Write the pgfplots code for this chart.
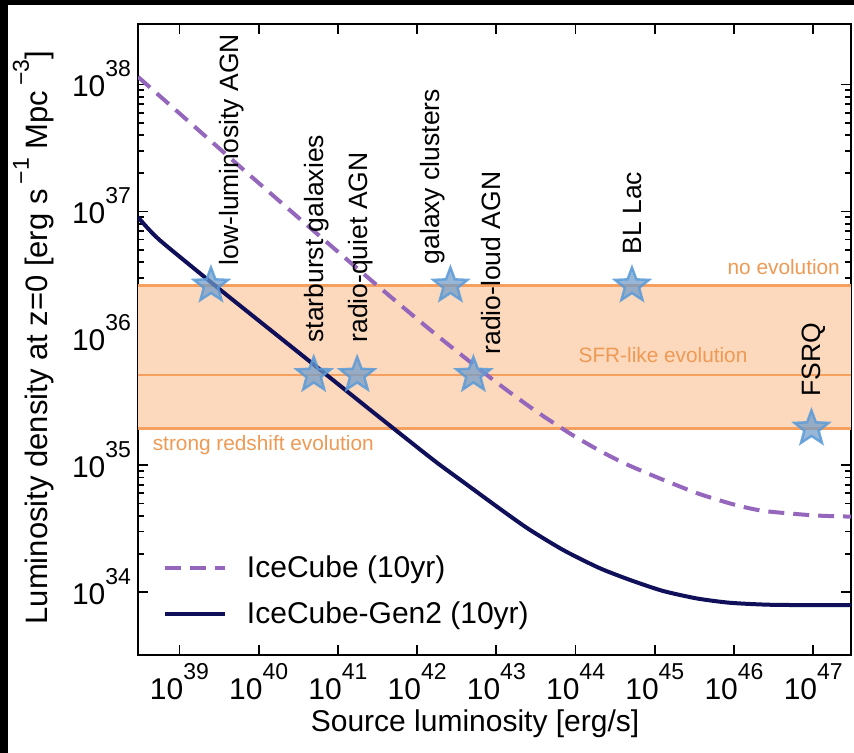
\documentclass[border=0pt]{standalone}
\usepackage{fontspec}
\setmainfont{Liberation Sans}
\usepackage{pgfplots}
\pgfplotsset{compat=1.18}
\definecolor{navy}{HTML}{10105A}
\definecolor{purp}{HTML}{9467BD}
\definecolor{bandfill}{HTML}{FCD8BC}
\definecolor{bandline}{HTML}{F5A05E}
\definecolor{bandtext}{HTML}{EE9A55}
\definecolor{starfill}{HTML}{6F9CCB}
\definecolor{staredge}{HTML}{5A9BD8}
\pgfdeclareplotmark{fstar}{%
 \pgfpathmoveto{\pgfpointpolar{90}{\pgfplotmarksize}}%
 \pgfpathlineto{\pgfpointpolar{126}{0.42\pgfplotmarksize}}%
 \pgfpathlineto{\pgfpointpolar{162}{\pgfplotmarksize}}%
 \pgfpathlineto{\pgfpointpolar{198}{0.42\pgfplotmarksize}}%
 \pgfpathlineto{\pgfpointpolar{234}{\pgfplotmarksize}}%
 \pgfpathlineto{\pgfpointpolar{270}{0.42\pgfplotmarksize}}%
 \pgfpathlineto{\pgfpointpolar{306}{\pgfplotmarksize}}%
 \pgfpathlineto{\pgfpointpolar{342}{0.42\pgfplotmarksize}}%
 \pgfpathlineto{\pgfpointpolar{18}{\pgfplotmarksize}}%
 \pgfpathlineto{\pgfpointpolar{54}{0.42\pgfplotmarksize}}%
 \pgfpathclose
 \pgfusepathqfillstroke}
\newcommand{\pw}[1]{10\raisebox{10bp}{\fontsize{11.5bp}{12bp}\selectfont #1}}
\newcommand{\sups}[1]{\raisebox{9.5bp}{\fontsize{11.5bp}{12bp}\selectfont #1}}
\begin{document}
\begin{tikzpicture}
\useasboundingbox (0,0) rectangle (427bp,376.5bp);
\fill[black] (0,0) rectangle (427bp,376.5bp);
\fill[white] (4bp,0) rectangle (427bp,374bp);
\begin{axis}[
  at={(69bp,49bp)}, anchor=south west,
  scale only axis, width=356.5bp, height=315.5bp,
  xmode=log, ymode=log,
  xmin=3e38, xmax=3e47, ymin=3.2e33, ymax=3e38,
  xtick={1e39,1e40,1e41,1e42,1e43,1e44,1e45,1e46,1e47},
  xminorticks=false,
  ytick={1e34,1e35,1e36,1e37,1e38},
  tick align=inside, xtick pos=both, ytick pos=both,
  major tick length=5bp, minor tick length=3bp,
  every tick/.style={black, line width=0.9bp},
  axis line style={line width=1bp},
  log number format basis/.code 2 args={\pgfmathparse{int(round(#2))}\pw{\pgfmathresult}},
  tick label style={font=\fontsize{15bp}{18bp}\selectfont},
  xticklabel style={inner sep=0pt, yshift=-4bp},
  yticklabel style={yshift=3bp},
  xlabel={Source luminosity [erg/s]},
  xlabel style={at={(axis description cs:0.4727,-0.1090)}, anchor=center, inner sep=0pt, font=\fontsize{15bp}{17bp}\selectfont},
  ylabel={Luminosity density at z=0 [erg s\,\sups{−1} Mpc\,\sups{−3}]},
  ylabel style={at={(axis description cs:-0.1465,0.503)}, anchor=center, rotate=0, font=\fontsize{15.5bp}{18bp}\selectfont},
  legend style={draw=none, fill=none, inner sep=0pt, outer sep=0pt,
    at={(axis description cs:0.035,0.1009)}, anchor=west,
    font=\fontsize{15bp}{17bp}\selectfont, row sep=7.8bp, column sep=8.5bp,
    nodes={inner sep=1.5bp}},
  legend cell align=left,
  legend image code/.code={\draw[#1] (0bp,0bp) -- (30bp,0bp);},
  clip=true,
]
% evolution band
\addplot[draw=none, fill=bandfill, forget plot] coordinates {(3e38,1.95e35) (3e47,1.95e35) (3e47,2.61e36) (3e38,2.61e36)} -- cycle;
\addplot[bandline, line width=1.1bp, forget plot] coordinates {(3e38,2.61e36) (3e47,2.61e36)};
\addplot[bandline, line width=1.1bp, forget plot] coordinates {(3e38,5.15e35) (3e47,5.15e35)};
\addplot[bandline, line width=1.1bp, forget plot] coordinates {(3e38,1.95e35) (3e47,1.95e35)};
% IceCube 10yr
\addplot[purp, line width=2bp, dash pattern=on 8bp off 4.5bp, smooth, tension=0.4] coordinates {
(3.0e38,1.148e38) (1.841e39,4.236e37) (6.471e39,2.123e37) (3.365e40,8.650e36)
(8.035e40,5.408e36) (2.831e41,2.754e36) (1e42,1.419e36) (2.649e42,8.630e35)
(1.021e43,4.457e35) (3.162e43,2.667e35) (8.650e43,1.766e35) (1.995e44,1.306e35)
(4.036e44,1.042e35) (1e45,8.166e34) (3.412e45,6.026e34) (1e46,4.898e34)
(2.36e46,4.365e34) (1e47,4.027e34) (3.0e47,3.936e34)};
\addlegendentry{IceCube (10yr)}
% IceCube-Gen2 10yr
\addplot[navy, line width=2bp, smooth, tension=0.4] coordinates {
(3.0e38,9.016e36) (5.483e38,6.026e36) (3.162e39,2.455e36) (1e40,1.380e36)
(6.012e40,5.636e35) (3.162e41,2.455e35) (1.618e42,1.096e35) (3.981e42,7.244e34)
(1.021e43,4.710e34) (2.512e43,3.162e34) (7.063e43,2.138e34) (1.995e44,1.549e34)
(4.909e44,1.245e34) (1.259e45,1.023e34) (3.412e45,8.913e33) (8.974e45,8.241e33)
(3.162e46,7.943e33) (3.0e47,7.889e33)};
\addlegendentry{IceCube-Gen2 (10yr)}
% source classes
\addplot[only marks, mark=fstar, mark size=9bp, forget plot,
  mark options={fill=starfill, fill opacity=0.72, draw=staredge, draw opacity=0.85, line width=1.2bp}]
coordinates {(2.5e39,2.61e36) (4.95e40,5.15e35) (1.75e41,5.15e35) (2.63e42,2.61e36)
(5.13e42,5.15e35) (5.15e44,2.61e36) (9.5e46,1.95e35)};
\begin{scope}[every node/.style={rotate=90, anchor=base west, inner sep=0pt, font=\fontsize{13.25bp}{15bp}\selectfont}]
\node at (axis cs:5.55e39,3.73e36) {low-luminosity AGN};
\node at (axis cs:6.56e40,9.2e35) {starburst galaxies};
\node at (axis cs:2.36e41,9.2e35) {radio-quiet AGN};
\node at (axis cs:1.91e42,3.8e36) {galaxy clusters};
\node at (axis cs:1.12e43,7.41e35) {radio-loud AGN};
\node at (axis cs:6.76e44,4.56e36) {BL Lac};
\node at (axis cs:1.22e47,3.45e35) {FSRQ};
\end{scope}
\begin{scope}[every node/.style={text=bandtext, inner sep=0pt, font=\fontsize{10.4bp}{12bp}\selectfont}]
\node[anchor=east] at (axis cs:2.19e47,3.66e36) {no evolution};
\node[anchor=west] at (axis cs:1.08e44,7.41e35) {SFR-like evolution};
\node[anchor=west] at (axis cs:4.56e38,1.445e35) {strong redshift evolution};
\end{scope}
\end{axis}
\end{tikzpicture}
\end{document}
